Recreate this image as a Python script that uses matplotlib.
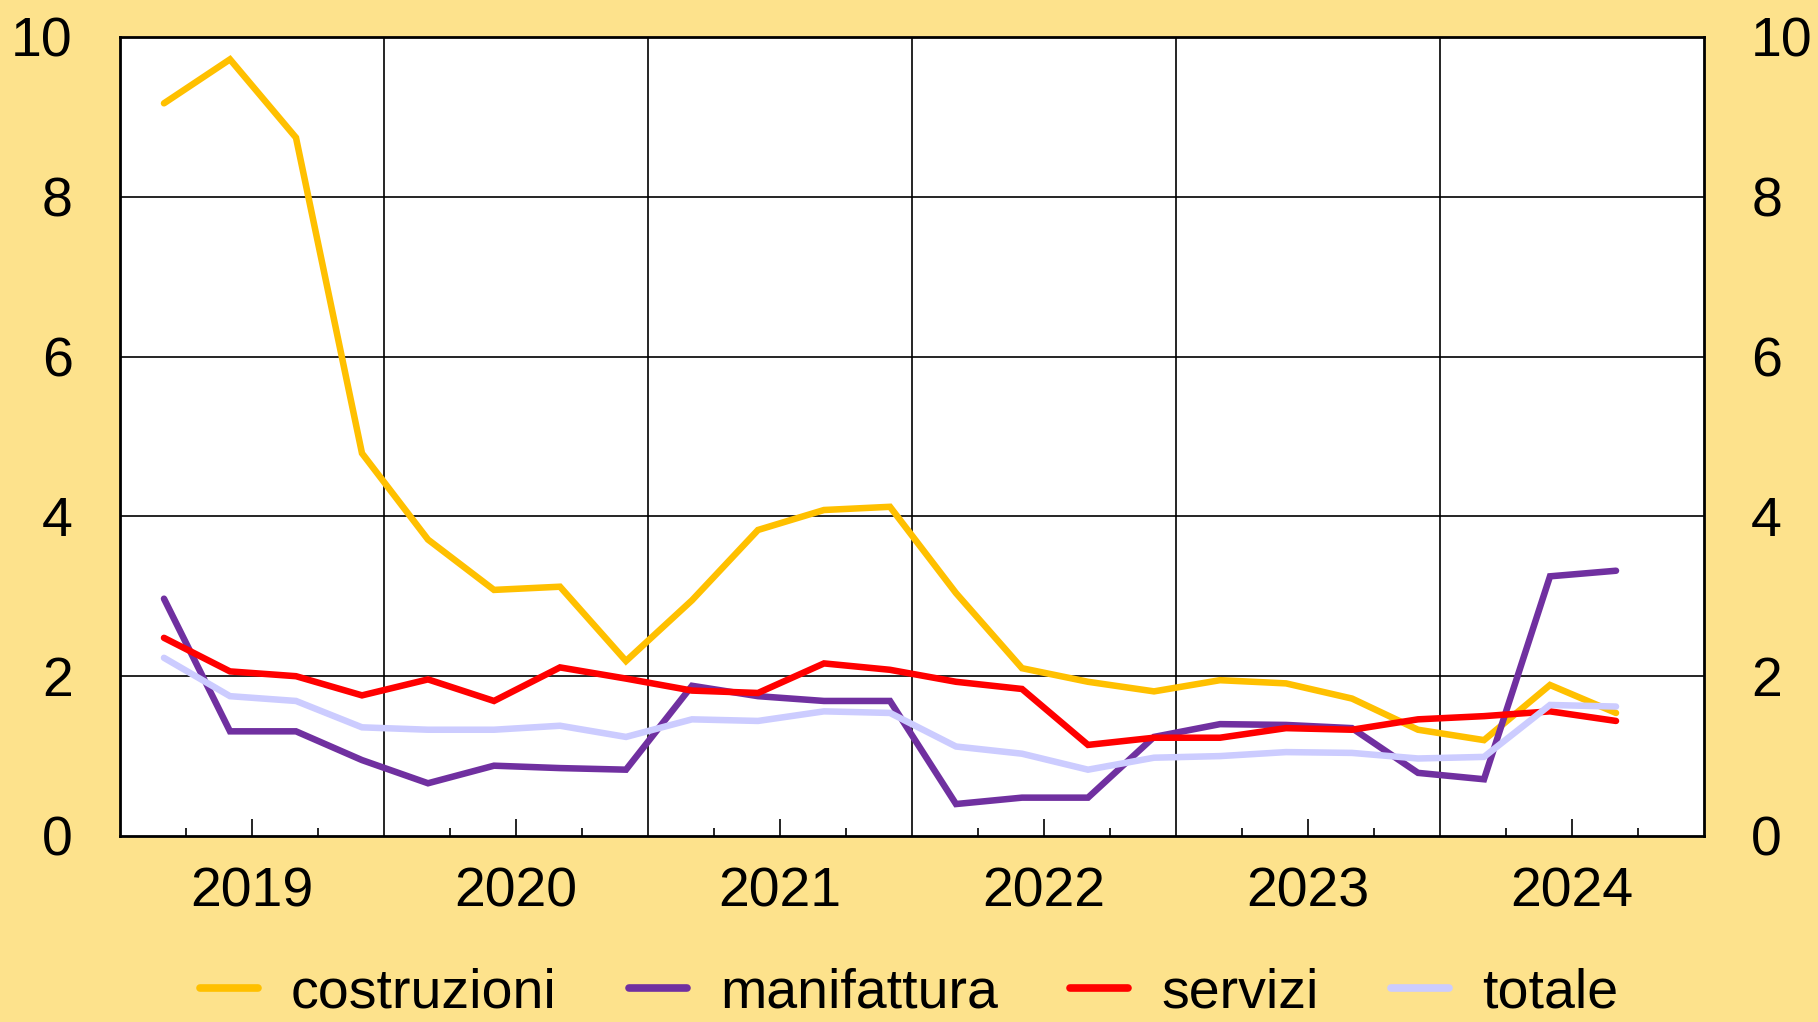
import matplotlib.pyplot as plt
import numpy as np

plt.rcParams['font.family'] = ['Liberation Sans', 'DejaVu Sans']

# quarterly observations, first one at Feb 2019
start_year = 2019
n_obs = 23
costruzioni = [9.17, 9.72, 8.74, 4.79, 3.71, 3.08, 3.12, 2.19, 2.95, 3.83, 4.08, 4.12,
               3.04, 2.10, 1.93, 1.81, 1.95, 1.91, 1.72, 1.33, 1.20, 1.89, 1.54]
manifattura = [2.97, 1.31, 1.31, 0.95, 0.66, 0.88, 0.85, 0.83, 1.88, 1.75, 1.69, 1.69,
               0.40, 0.48, 0.48, 1.24, 1.40, 1.39, 1.35, 0.79, 0.71, 3.25, 3.32]
servizi = [2.48, 2.06, 2.00, 1.76, 1.96, 1.69, 2.11, 1.97, 1.82, 1.79, 2.16, 2.08,
           1.93, 1.84, 1.14, 1.23, 1.23, 1.35, 1.33, 1.46, 1.50, 1.56, 1.44]
totale = [2.23, 1.75, 1.69, 1.36, 1.33, 1.33, 1.38, 1.24, 1.46, 1.44, 1.56, 1.54,
          1.12, 1.03, 0.83, 0.98, 1.00, 1.05, 1.04, 0.97, 0.99, 1.64, 1.62]
years = [2019, 2020, 2021, 2022, 2023, 2024]
yticks = [0, 2, 4, 6, 8, 10]

series = [("costruzioni", costruzioni, "#FFC000"),
          ("manifattura", manifattura, "#7030A0"),
          ("servizi", servizi, "#FF0000"),
          ("totale", totale, "#CCCCFF")]

bg = "#FDE28C"
x = start_year + (2 + 3 * np.arange(n_obs)) / 12

fig = plt.figure(figsize=(18.18, 10.22), dpi=100, facecolor=bg)
ax = fig.add_axes([0.066, 0.182, 0.8713, 0.7818])
ax.set_facecolor("white")

for yy in yticks[1:-1]:
    ax.axhline(yy, color="black", lw=1.2, zorder=1)
for yr in years[1:]:
    ax.axvline(yr, color="black", lw=1.2, zorder=1)

for name, vals, col in series:
    ax.plot(x, vals, color=col, lw=4.7, label=name, zorder=3,
            solid_capstyle="round", solid_joinstyle="miter")

ax.set_xlim(years[0], years[-1] + 1)
ax.set_ylim(0, 10)
ax.set_xticks([y + 0.5 for y in years])
ax.set_xticklabels([str(y) for y in years])
ax.set_xticks([y + q for y in years for q in (0.25, 0.75)], minor=True)
ax.tick_params(axis="x", which="major", direction="in", length=12, width=1.2,
               labelsize=40, pad=22)
ax.tick_params(axis="x", which="minor", direction="in", length=6, width=1.2)
ax.set_yticks(yticks)
ax.tick_params(axis="y", length=0, labelsize=40, pad=34,
               labelleft=True, labelright=True)
for s in ax.spines.values():
    s.set_linewidth(2)
    s.set_color("black")

leg = fig.legend(loc="center", bbox_to_anchor=(0.5, 0.028), ncol=4, frameon=False,
                 fontsize=40, handlelength=1.04, handletextpad=0.6, columnspacing=1.3)
for h in leg.get_lines():
    h.set_linewidth(5.5)

fig.savefig("out.png", dpi=100, facecolor=bg)
